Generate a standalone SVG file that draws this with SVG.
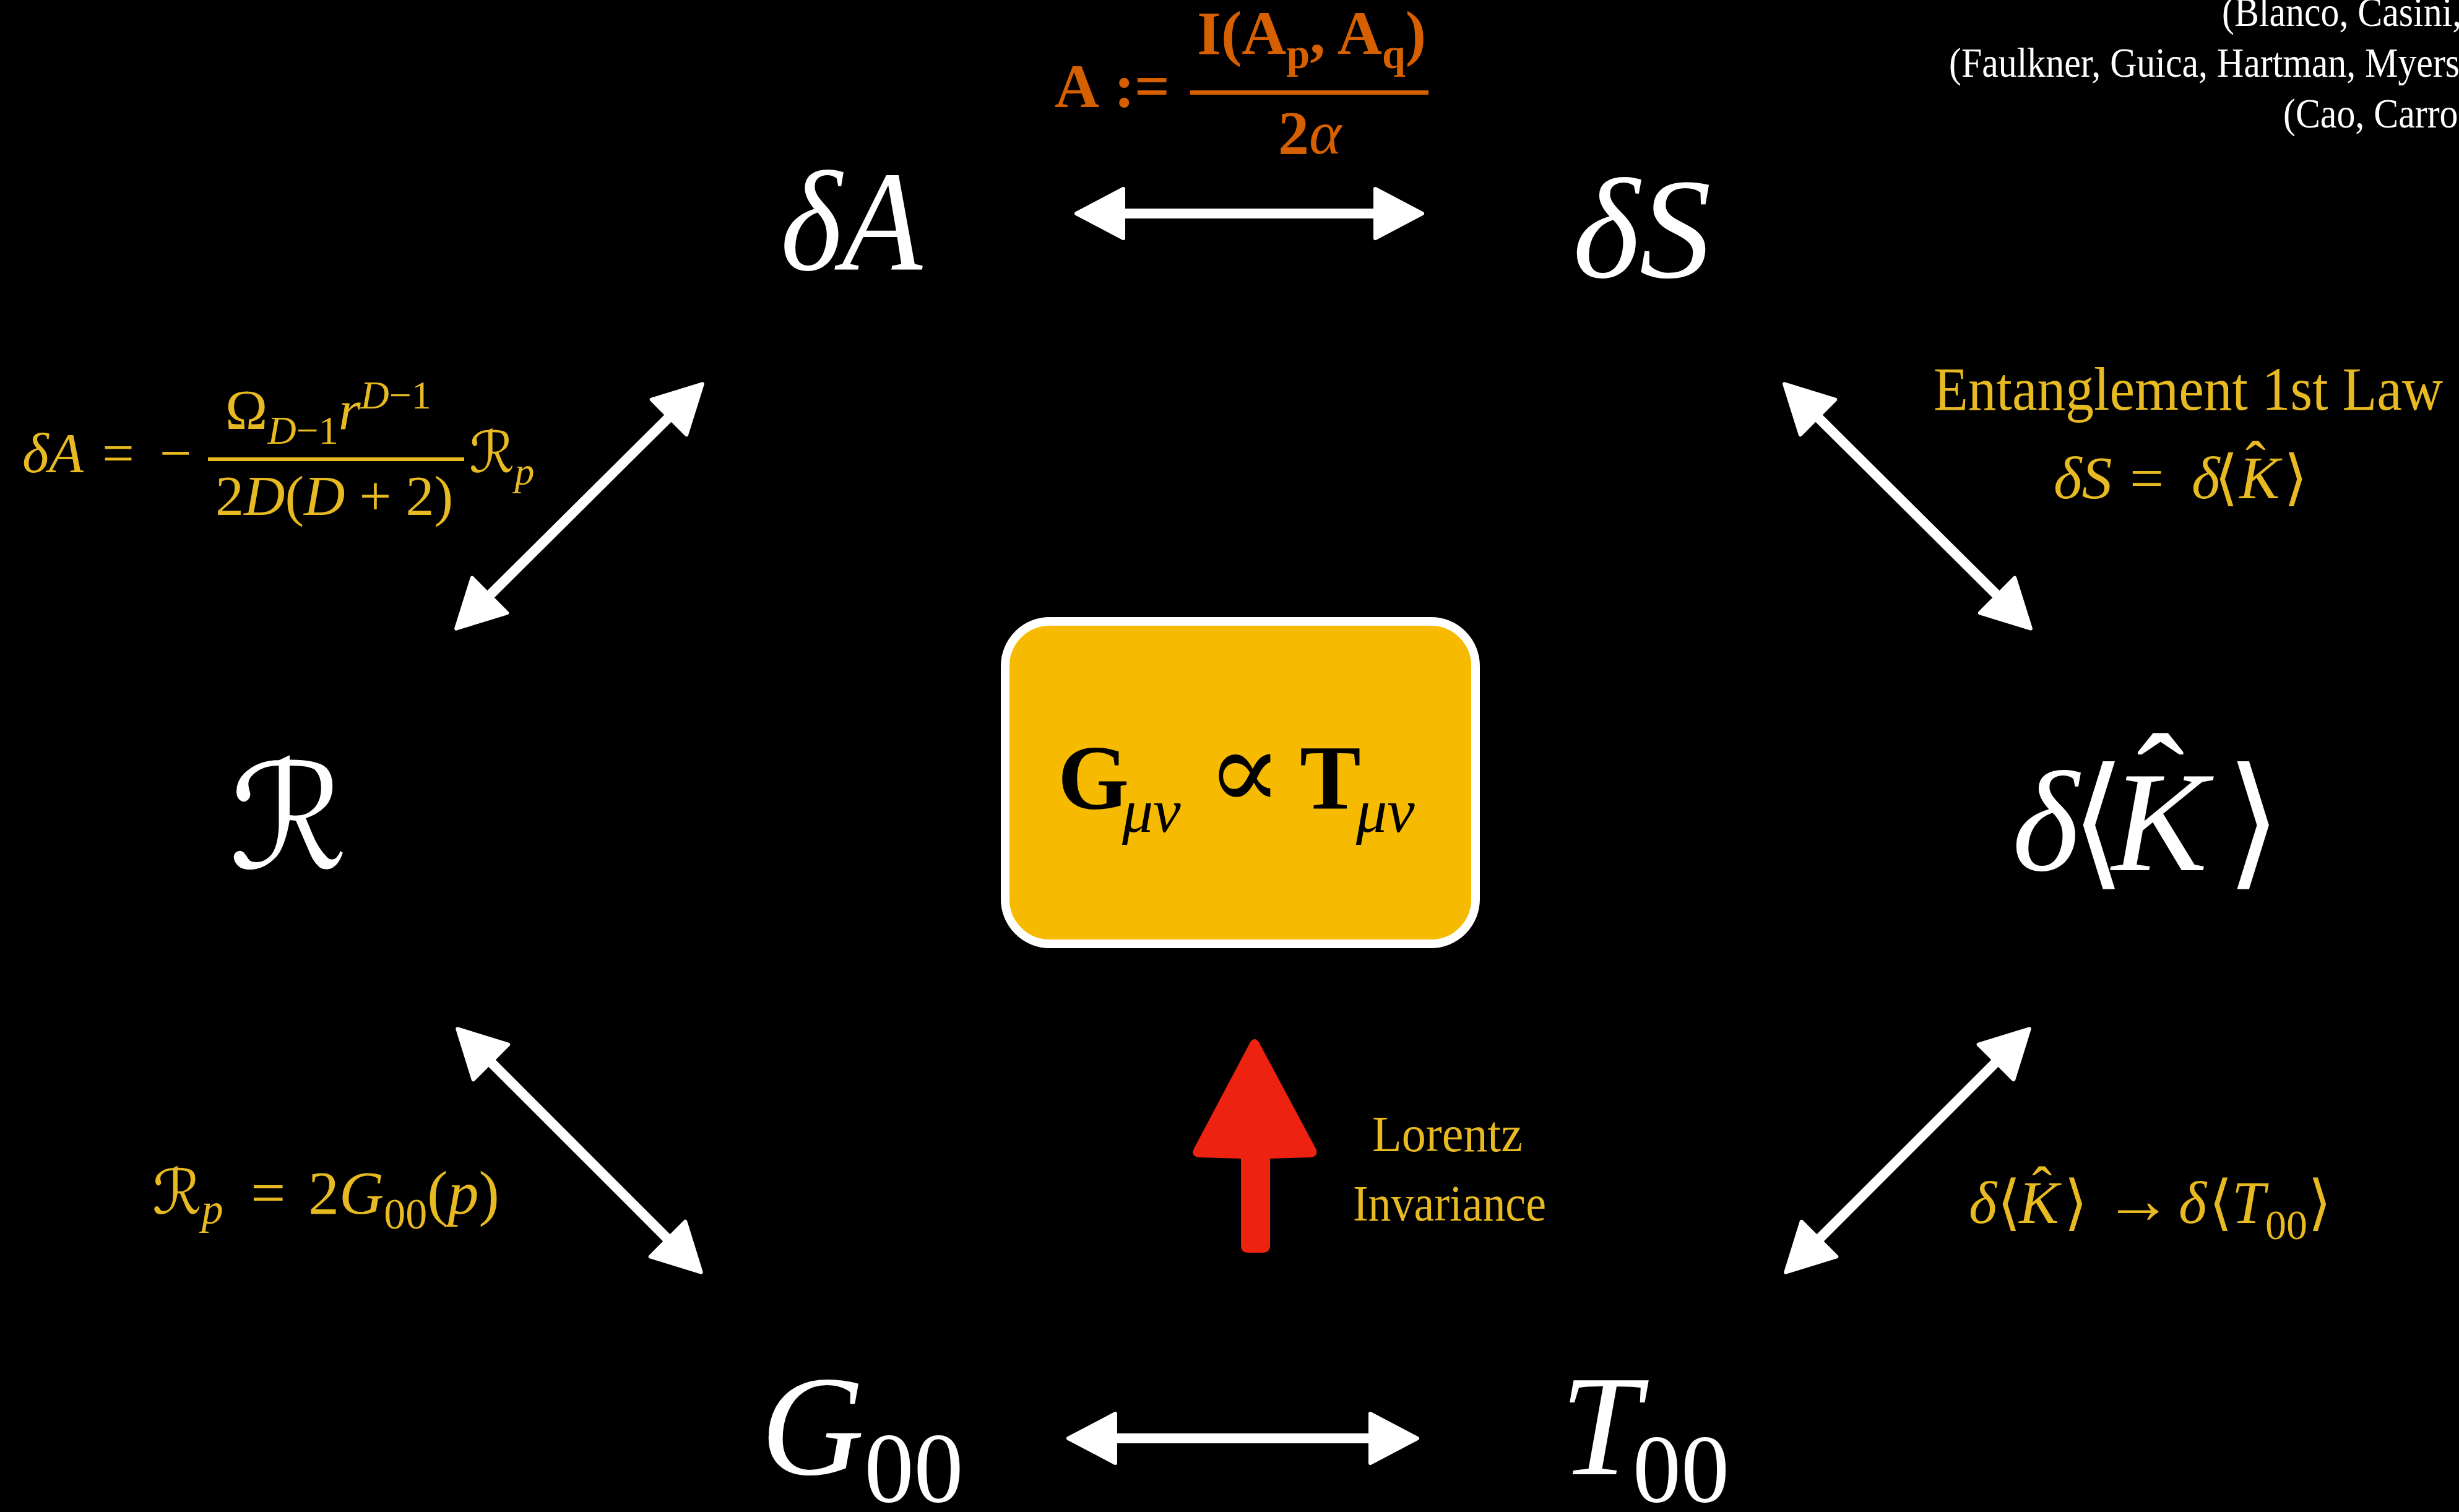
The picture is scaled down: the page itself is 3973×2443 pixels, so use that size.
<svg xmlns="http://www.w3.org/2000/svg" width="3973" height="2443" viewBox="0 0 3973 2443">
<style>
text{font-family:"Liberation Serif","DejaVu Serif",serif}
.w{fill:#fff}
.g{fill:#E8BA22}
.o{fill:#D66000}
.it{font-style:italic}
.up{font-style:normal}
.b{font-weight:bold}
.br{font-family:"DejaVu Serif",serif;font-style:normal}
.scr{font-family:"DejaVu Serif","DejaVu Sans",serif;font-style:normal}
.node{font-size:232px;font-style:italic;fill:#fff}
.cite{font-size:68px;fill:#fff}
.conn line{stroke:#fff;stroke-width:16;marker-start:url(#ah);marker-end:url(#ah)}
</style>
<defs>
<marker id="ah" viewBox="0 0 84 88" refX="4" refY="44" markerWidth="84" markerHeight="88" markerUnits="userSpaceOnUse" orient="auto-start-reverse">
<path d="M4,4 L80,44 L4,84 Z" fill="#fff" stroke="#fff" stroke-width="6" stroke-linejoin="round"/>
</marker>
</defs>
<rect width="3973" height="2443" fill="#000"/>

<g id="citations">
<text class="cite" transform="translate(3590,42) scale(0.88,1)">(Blanco, Casini,</text>
<text class="cite" transform="translate(3149,124) scale(0.88,1)">(Faulkner, Guica, Hartman, Myers,</text>
<text class="cite" transform="translate(3689,206) scale(0.88,1)">(Cao, Carro</text>
</g>

<g id="label-area">
<text class="o b" font-size="100" y="173"><tspan x="1704">A</tspan><tspan x="1800">:</tspan><tspan x="1833">=</tspan></text>
<rect class="o" x="1923" y="146" width="385" height="7"/>
<text class="o b" font-size="100" y="87"><tspan x="1934">I(A</tspan><tspan font-size="68" dy="23">p</tspan><tspan dy="-23">, A</tspan><tspan font-size="68" dy="23">q</tspan><tspan dy="-23">)</tspan></text>
<text class="o" font-size="100" y="248"><tspan class="b" x="2065">2</tspan><tspan class="it">α</tspan></text>
</g>

<g id="label-dA">
<text class="g" font-size="92" y="763"><tspan class="it" x="36">δA</tspan><tspan x="165">=</tspan><tspan x="258">−</tspan></text>
<rect class="g" x="336" y="739" width="414" height="6"/>
<text class="g" font-size="92" y="693"><tspan x="364">Ω</tspan><tspan font-size="64" dy="24"><tspan class="it">D</tspan>−1</tspan><tspan class="it" dy="-24">r</tspan><tspan font-size="64" dy="-33"><tspan class="it">D</tspan>−1</tspan></text>
<text class="g" font-size="92" y="832" x="348">2<tspan class="it">D</tspan>(<tspan class="it">D</tspan> + 2)</text>
<text class="g" font-size="92" y="763"><tspan class="scr" x="758">ℛ</tspan><tspan class="it" font-size="64" dy="20">p</tspan></text>
</g>

<g id="label-entanglement">
<text class="g" font-size="100" x="3124" y="662" textLength="823" lengthAdjust="spacingAndGlyphs">Entanglement 1st Law</text>
<text class="g it" font-size="98" y="805"><tspan x="3318">δS</tspan><tspan class="up" x="3441">=</tspan><tspan x="3541">δ</tspan><tspan class="br" x="3578">⟨</tspan><tspan x="3618">K</tspan><tspan class="br" x="3690">⟩</tspan><tspan class="up" x="3628" y="780">ˆ</tspan></text>
</g>

<g id="label-R">
<text class="g" font-size="100" y="1961"><tspan class="scr" x="246">ℛ</tspan><tspan class="it" font-size="70" dy="16">p</tspan><tspan dy="-16" x="405">=</tspan><tspan x="498">2</tspan><tspan class="it">G</tspan><tspan font-size="70" dy="24">00</tspan><tspan dy="-24">(</tspan><tspan class="it">p</tspan>)</text>
</g>

<g id="label-K">
<text class="g it" font-size="97" y="1976"><tspan x="3181">δ</tspan><tspan class="br" x="3227">⟨</tspan><tspan x="3262">K</tspan><tspan class="br" x="3335">⟩</tspan><tspan class="up" x="3400" font-size="110">→</tspan><tspan x="3520">δ</tspan><tspan class="br" x="3569">⟨</tspan><tspan x="3606">T</tspan><tspan class="up" font-size="68" dy="26">00</tspan><tspan class="br" dy="-26" x="3729">⟩</tspan><tspan class="up" x="3283" y="1952">ˆ</tspan></text>
</g>

<g id="label-lorentz">
<text class="g" font-size="83" x="2217" y="1860" textLength="243" lengthAdjust="spacingAndGlyphs">Lorentz</text>
<text class="g" font-size="83" x="2186" y="1972" textLength="312" lengthAdjust="spacingAndGlyphs">Invariance</text>
</g>

<g id="connectors" class="conn">
<line x1="1815" y1="345" x2="2222" y2="345"/>
<line x1="1802" y1="2324" x2="2214" y2="2324"/>
<line x1="791" y1="962" x2="1081" y2="674"/>
<line x1="2937" y1="674" x2="3227" y2="962"/>
<line x1="793" y1="1716" x2="1079" y2="2002"/>
<line x1="3225" y1="1716" x2="2939" y2="2002"/>
<path id="lorentz-arrow" d="M2020,1684 Q2027,1674 2034,1684 L2126,1856 Q2131,1868 2118,1870 L2052,1872 L2052,2012 Q2052,2024 2040,2024 L2016,2024 Q2005,2024 2005,2012 L2005,1872 L1937,1870 Q1923,1868 1929,1856 Z" fill="#EE2210"/>
</g>

<g id="node-dA">
<text class="node" x="1261" y="436" textLength="229" lengthAdjust="spacingAndGlyphs">δA</text>
</g>
<g id="node-dS">
<text class="node" x="2541" y="448">δS</text>
</g>
<g id="node-R">
<text class="w scr" font-size="236" x="370" y="1403" textLength="192" lengthAdjust="spacingAndGlyphs">ℛ</text>
</g>
<g id="node-dK">
<text class="node" y="1406"><tspan x="3251">δ</tspan><tspan class="br" x="3345">⟨</tspan><tspan x="3412">K</tspan><tspan class="br" x="3596">⟩</tspan><tspan class="up" x="3452" y="1345">ˆ</tspan></text>
</g>
<g id="node-G00">
<text class="node" x="1229" y="2382">G<tspan class="up" font-size="160" dy="44">00</tspan></text>
</g>
<g id="node-T00">
<text class="node" x="2521" y="2382">T<tspan class="up" font-size="156" dx="-12" dy="44">00</tspan></text>
</g>
<g id="node-einstein">
<rect x="1624" y="1004" width="760" height="521" rx="72" ry="72" fill="#F6BB00" stroke="#fff" stroke-width="14"/>
<text font-size="148" fill="#000" y="1307"><tspan class="b" x="1709">G</tspan><tspan class="it" font-size="100" dy="37" x="1813">μν</tspan><tspan dy="-37" x="1950" font-size="180">∝</tspan><tspan class="b" x="2100">T</tspan><tspan class="it" font-size="100" dy="37" x="2191">μν</tspan></text>
</g>
</svg>
